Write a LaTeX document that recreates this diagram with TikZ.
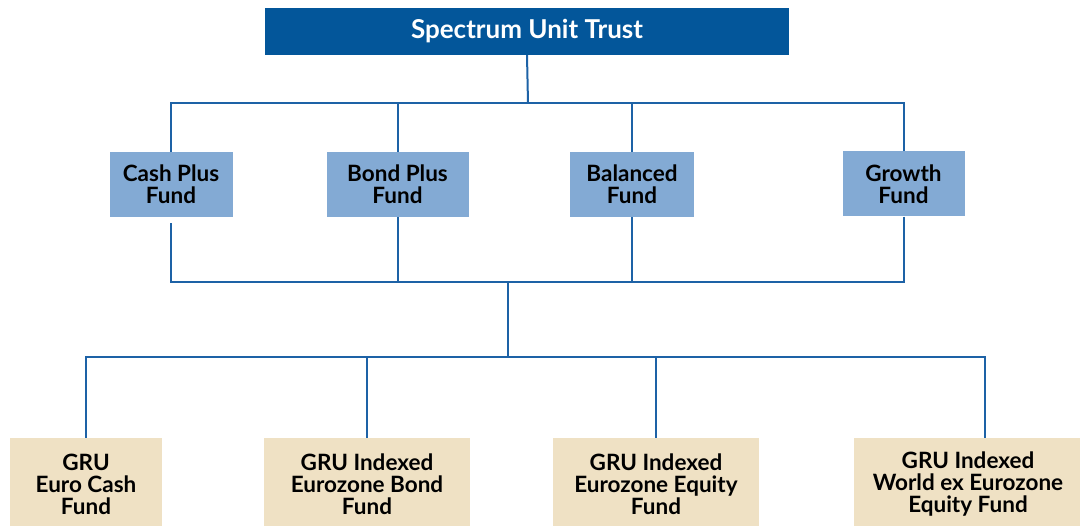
\documentclass[tikz,border=0pt]{standalone}
\usepackage{fontspec}
\setmainfont{Lato}
\definecolor{topblue}{HTML}{03569A}
\definecolor{midblue}{HTML}{83AAD4}
\definecolor{beige}{HTML}{EFE1C4}
\definecolor{linkblue}{HTML}{1D62A6}
\tikzset{
  topbox/.style={fill=topblue, text=white, inner sep=0pt, align=center,
    font=\bfseries\fontsize{26}{28}\selectfont},
  midbox/.style={fill=midblue, text=black, inner sep=0pt, align=center,
    minimum height=65pt, font=\bfseries\fontsize{22.5}{22}\selectfont},
  botbox/.style={fill=beige, text=black, inner sep=0pt, align=center,
    minimum height=92pt, font=\bfseries\fontsize{22.5}{22}\selectfont},
  link/.style={draw=linkblue, line width=2pt}
}
\begin{document}
\begin{tikzpicture}[x=1pt,y=-1pt]
\useasboundingbox (0,0) rectangle (1080,526);
\node[topbox, minimum width=524pt, minimum height=47pt] (top) at (527,31.5) {Spectrum Unit Trust};

\node[midbox, minimum width=123pt] (cash) at (171,184.5) {Cash Plus\\Fund};
\node[midbox, minimum width=142pt] (bond) at (397.5,184.5) {Bond Plus\\Fund};
\node[midbox, minimum width=124pt] (bal) at (632,184.5) {Balanced\\Fund};
\node[midbox, minimum width=122pt] (grow) at (903.5,184) {Growth\\Fund};

\node[botbox, minimum width=152pt] (b1) at (86,484) {GRU\\Euro Cash\\Fund};
\node[botbox, minimum width=206pt] (b2) at (367,484) {GRU Indexed\\Eurozone Bond\\Fund};
\node[botbox, minimum width=206pt] (b3) at (656,484) {GRU Indexed\\Eurozone Equity\\Fund};
\node[botbox, minimum width=228pt] (b4) at (968,484) {GRU Indexed\\World ex Eurozone\\Equity Fund};

\coordinate (j1) at (528,103);
\coordinate (j2) at (508,282);
\coordinate (j3) at (508,357);

\draw[link] (top.south) -- (j1);
\draw[link] (cash.north) |- (j1);
\draw[link] (bond.north) |- (j1);
\draw[link] (bal.north) |- (j1);
\draw[link] (grow.north) |- (j1);

\draw[link, shorten <=6pt] (cash.south) |- (j2);
\draw[link] (bond.south) |- (j2);
\draw[link] (bal.south) |- (j2);
\draw[link] (grow.south) |- (j2);
\draw[link] (j2) -- (j3);

\draw[link] (b1.north) |- (j3);
\draw[link] (b2.north) |- (j3);
\draw[link] (b3.north) |- (j3);
\draw[link] ([xshift=17pt]b4.north) |- (j3);
\end{tikzpicture}
\end{document}
